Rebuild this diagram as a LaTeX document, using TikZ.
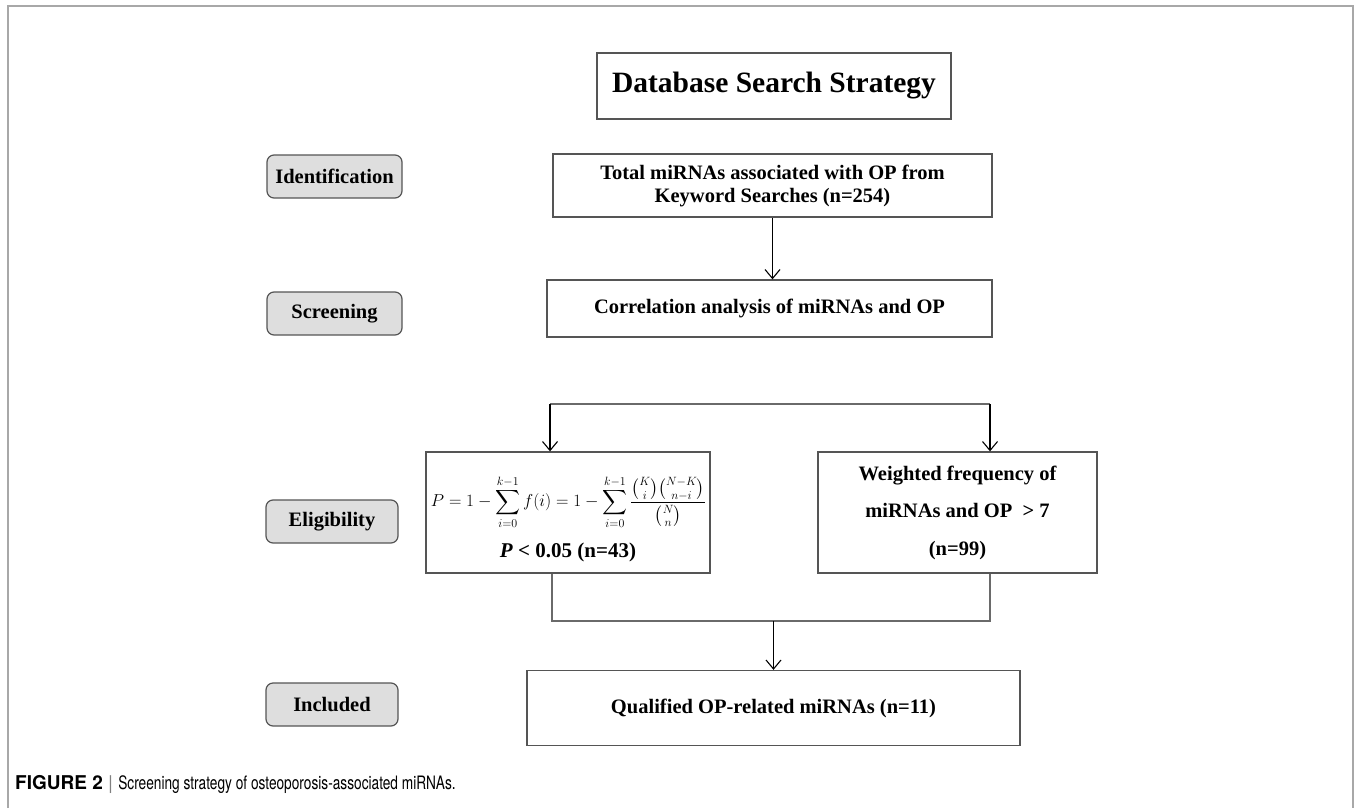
\documentclass[tikz,border=0pt]{standalone}
\usepackage{fontspec}
\usepackage{amsmath}
\setmainfont{Liberation Serif}
\newfontfamily\capfont{TeX Gyre Heros}
\newfontfamily\capcond[FakeStretch=0.74]{TeX Gyre Heros}
\usetikzlibrary{arrows.meta}
\definecolor{boxline}{HTML}{555555}
\definecolor{lblfill}{HTML}{DEDEDE}
\definecolor{frameline}{HTML}{A8A8A8}
\definecolor{conline}{HTML}{6A6A6A}
\tikzset{
  mainbox/.style={draw=boxline, line width=1.3pt, fill=white, inner sep=0pt, align=center,
    font=\bfseries\fontsize{20.5}{23}\selectfont},
  lblbox/.style={draw=boxline, line width=1.2pt, fill=lblfill, rounded corners=7pt, inner sep=0pt,
    minimum height=43pt, font=\bfseries\fontsize{20.5}{23}\selectfont},
  conn/.style={draw=conline, line width=1.1pt},
  arr/.style={draw=black, line width=1.1pt, -{Straight Barb[length=9pt,width=15pt,line width=1.1pt]}},
}
\begin{document}
\begin{tikzpicture}[x=1pt,y=-1pt]
\useasboundingbox (0,0) rectangle (1356,808);
% outer frame
\draw[frameline, line width=1.8pt] (8,808) -- (8,6) -- (1353,6) -- (1353,808);

% main boxes
\node[mainbox, minimum width=354pt, minimum height=66pt, font=\bfseries\fontsize{29.5}{32}\selectfont]
  (title) at (774,86) {Database Search Strategy};
\node[mainbox, minimum width=439pt, minimum height=63pt] (total) at (772.5,185.5)
  {Total miRNAs associated with OP from\\Keyword Searches (n=254)};
\node[mainbox, minimum width=445pt, minimum height=57pt] (corr) at (769.5,308.5)
  {Correlation analysis of miRNAs and OP};
\node[mainbox, minimum width=284pt, minimum height=121pt] (left) at (568,512.5) {};
\node (formula) at (568.5,502) {\fontsize{17}{20}\selectfont
  $\displaystyle P = 1-\sum_{i=0}^{k-1} f(i) = 1-\sum_{i=0}^{k-1}\frac{\binom{K}{i}\binom{N-K}{n-i}}{\binom{N}{n}}$};
\node[font=\bfseries\fontsize{21}{23}\selectfont] (pval) at (568,552) {\textit{P} < 0.05 (n=43)};
\node[mainbox, minimum width=279pt, minimum height=121pt, font=\bfseries\fontsize{20.5}{37.5}\selectfont]
  (right) at (957.5,512.5) {Weighted frequency of\\miRNAs and OP \ > 7\\(n=99)};
\node[mainbox, minimum width=493pt, minimum height=75pt] (final) at (773.5,708)
  {Qualified OP-related miRNAs (n=11)};

% stage labels
\node[lblbox, minimum width=135pt] (ident) at (334.5,176.5) {Identification};
\node[lblbox, minimum width=135pt] (screen) at (334.5,313.5) {Screening};
\node[lblbox, minimum width=132pt] (elig) at (332,521.5) {Eligibility};
\node[lblbox, minimum width=132pt] (incl) at (332,704.5) {Included};

% connectors
\draw[arr] (total.south) -- (total.south |- corr.north);
\coordinate (bl) at (550,404);
\coordinate (br) at (990,404);
\draw[conn] (bl) -- (br);
\draw[arr] (bl) -- (bl |- left.north);
\draw[arr] (br) -- (br |- right.north);
\coordinate (jl) at (552,621);
\coordinate (jr) at (990,621);
\coordinate (jm) at (773.5,621);
\draw[conn] (jl |- left.south) -- (jl) -- (jr) -- (jr |- right.south);
\draw[arr] (jm) -- (jm |- final.north);

% caption
\node[anchor=base west, inner sep=0pt] (cap) at (15,789)
  {\capfont\fontsize{19}{22}\selectfont\textbf{FIGURE 2} {\color{gray}|} \capcond\fontsize{18.5}{22}\selectfont Screening strategy of osteoporosis-associated miRNAs.};
\end{tikzpicture}
\end{document}
